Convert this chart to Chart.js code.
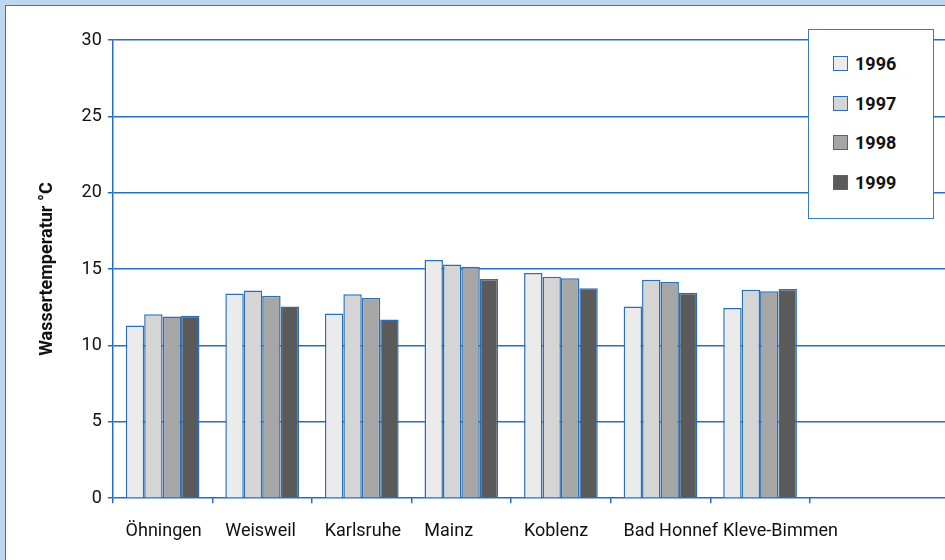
<!DOCTYPE html>
<html>
<head>
<meta charset="utf-8">
<script src="https://cdn.jsdelivr.net/npm/chart.js@4/dist/chart.umd.min.js"></script>
<style>
  html, body { margin: 0; padding: 0; }
  body { width: 945px; height: 560px; overflow: hidden; background: #bdd7ee; position: relative; font-family: Roboto, sans-serif; }
  #panel { position: absolute; left: 5px; top: 5px; width: 960px; height: 580px; background: #fff; border-left: 1.5px solid #2e75b6; border-top: 1.5px solid #2e75b6; }
  #wrap { position: absolute; left: 0; top: 0; width: 1030px; height: 560px; }
  #legend { position: absolute; left: 808px; top: 29px; width: 124px; height: 188px; background: #fff; border: 1px solid #3a7cc0; }
  .item { position: absolute; left: 24px; height: 20px; font: bold 18px Roboto, sans-serif; color: #111; line-height: 20px; }
  .item span.sw { position: absolute; left: 0; top: 2px; width: 13px; height: 13px; border: 1.5px solid #2a6fb5; }
  .item span.tx { position: absolute; left: 22px; top: 0; }
</style>
</head>
<body>
<div id="panel"></div>
<div id="wrap"><canvas id="myChart"></canvas></div>
<div id="legend"></div>
<script>
// Messstellen (two empty slots at the end, as in the original axis)
var stations = ['Öhningen', 'Weisweil', 'Karlsruhe', 'Mainz', 'Koblenz', 'Bad Honnef', 'Kleve-Bimmen', '', ''];
var years = ['1996', '1997', '1998', '1999'];
var v1996 = [11.3, 13.4, 12.1, 15.6, 14.75, 12.55, 12.45];
var v1997 = [12.05, 13.6, 13.35, 15.3, 14.5, 14.3, 13.65];
var v1998 = [11.9, 13.25, 13.1, 15.15, 14.4, 14.15, 13.55];
var v1999 = [11.95, 12.55, 11.7, 14.35, 13.75, 13.45, 13.7];
var yTicks = [0, 5, 10, 15, 20, 25, 30];

var fills = ['#ebebeb', '#d5d5d5', '#a6a6a6', '#5a5a5a'];
var blue = '#2470bf';
var values = [v1996, v1997, v1998, v1999];

var datasets = [];
for (var i = 0; i < years.length; i++) {
  datasets.push({
    label: years[i],
    data: values[i],
    backgroundColor: fills[i],
    borderColor: '#2a6fb5',
    borderWidth: 1.5,
    categoryPercentage: 0.74,
    barPercentage: 1.0
  });
}

// legend as html box inside the plot
var leg = document.getElementById('legend');
for (var i = 0; i < years.length; i++) {
  var d = document.createElement('div');
  d.className = 'item';
  d.style.top = (24 + i * 39.6) + 'px';
  d.innerHTML = '<span class="sw" style="background:' + fills[i] + '"></span><span class="tx">' + years[i] + '</span>';
  leg.appendChild(d);
}

Chart.defaults.font.family = 'Roboto, sans-serif';
Chart.defaults.color = '#111';

var ctx = document.getElementById('myChart');
var myChart = new Chart(ctx, {
  type: 'bar',
  data: { labels: stations, datasets: datasets },
  options: {
    responsive: true,
    maintainAspectRatio: false,
    animation: false,
    layout: { padding: { left: 37, top: 40, right: 21, bottom: 1 } },
    plugins: {
      legend: { display: false },
      tooltip: { enabled: false }
    },
    scales: {
      x: {
        grid: {
          display: true, drawOnChartArea: false, drawTicks: true, tickLength: 5, lineWidth: 1.5, offset: true,
          // no tick marks after the last station
          color: function(c) { return c.index > 7 ? 'rgba(0,0,0,0)' : blue; }
        },
        border: { display: false },
        ticks: { font: { size: 18, lineHeight: 1.1 }, padding: 18, maxRotation: 0, autoSkip: false, align: 'start', labelOffset: -37 }
      },
      y: {
        min: 0,
        max: 30,
        afterBuildTicks: function(axis) { axis.ticks = yTicks.map(function(v) { return { value: v }; }); },
        grid: { color: blue, lineWidth: 1.5, tickLength: 5 },
        border: { display: true, color: blue, width: 1.5 },
        ticks: { font: { size: 18 }, padding: 6 },
        title: { display: true, text: 'Wassertemperatur °C', font: { size: 18, weight: 'bold' }, padding: { top: 0, bottom: 17 } }
      }
    }
  }
});
</script>
</body>
</html>
